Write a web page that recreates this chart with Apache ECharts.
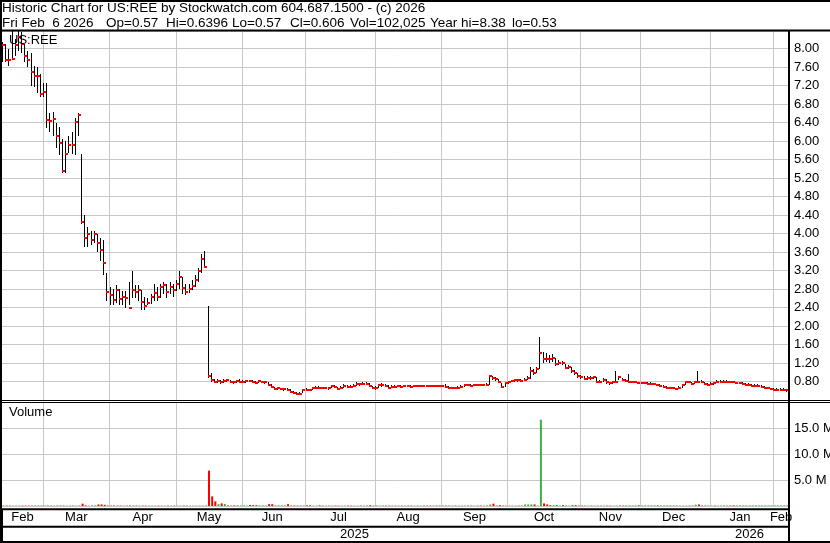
<!DOCTYPE html>
<html><head><meta charset="utf-8">
<script src="https://cdn.jsdelivr.net/npm/echarts@6/dist/echarts.min.js"></script>
<style>html,body{margin:0;padding:0;background:#fff;overflow:hidden}#c{width:846px;height:543px}</style>
</head><body><div id="c"></div>
<script>
// ---- calendar (US trading days) ----
const holidays = ['2025-02-17','2025-04-18','2025-05-26','2025-06-19','2025-07-04','2025-09-01','2025-11-27','2025-12-25','2026-01-01','2026-01-19'];
const firstDay = '2025-02-11', lastDay = '2026-02-06';
const monthNames = ['Jan','Feb','Mar','Apr','May','Jun','Jul','Aug','Sep','Oct','Nov','Dec'];

// ---- daily bars: high / low / close ----
const hi = [8.15,8.10,8.00,8.38,8.20,8.38,8.36,8.10,7.95,7.90,7.62,7.60,7.45,
7.25,7.25,6.60,6.62,6.40,6.30,6.05,6.00,6.10,6.20,6.50,6.60,
5.71,4.40,4.15,4.05,4.05,4.00,3.90,3.85,3.15,
2.85,2.80,2.88,2.80,2.75,2.75,2.95,3.20,2.88,2.88,2.78,2.62,2.60,2.70,2.90,2.85,2.90,2.95,2.90,2.95,2.90,3.00,3.20,3.05,2.90,2.90,3.00,3.10,3.25,3.55,3.62,
2.43,
0.99,0.85,0.86,0.84,0.85,0.86,0.84,0.82,0.83,0.86,0.83,0.83,0.84,0.83,0.82,0.83,0.82,0.81,0.78,0.74,0.69,0.68,0.67,0.66,0.66,0.63,0.60,0.58,0.57,0.64,0.66,0.64,0.68,0.70,0.70,0.69,0.69,0.68,0.73,0.72,0.69,0.71,0.74,0.72,0.72,0.74,0.79,0.77,0.78,0.78,0.76,0.70,0.70,0.75,0.76,0.74,0.72,0.72,0.72,0.73,0.72,0.73,0.72,0.72,0.73,0.72,0.73,0.72,0.72,0.73,0.73,0.73,0.73,0.73,0.75,0.70,0.69,0.69,0.70,0.72,0.75,0.74,0.74,0.75,0.74,0.75,0.75,0.76,
0.95,0.91,0.90,0.86,0.76,0.78,0.81,0.84,0.86,0.86,0.85,0.87,0.92,1.12,1.07,1.12,1.77,1.43,1.41,1.38,1.40,1.30,1.26,1.25,1.18,1.16,1.12,1.04,0.98,0.94,0.91,0.92,0.91,0.92,0.90,0.84,0.87,0.86,0.80,0.81,1.02,0.92,0.88,0.85,0.97,0.82,0.81,0.80,0.79,0.79,0.78,0.79,0.77,0.75,0.74,0.72,0.71,0.69,0.68,0.67,0.70,0.75,0.81,0.81,0.79,0.82,1.02,0.83,0.80,0.77,0.78,0.80,0.83,0.83,0.83,0.83,0.82,0.82,0.80,0.79,0.78,0.76,0.76,0.75,0.74,0.74,0.73,0.71,0.68,0.67,0.66,0.65,0.66,0.65,0.6396];
const lo = [7.72,7.70,7.62,7.75,7.85,7.95,7.90,7.70,7.60,7.20,7.16,7.03,6.95,
6.95,6.28,6.20,6.10,5.85,5.70,5.30,5.30,5.75,5.72,5.70,6.10,
4.20,3.70,3.70,3.75,3.80,3.60,3.40,3.10,2.55,
2.45,2.45,2.50,2.45,2.45,2.38,2.45,2.60,2.60,2.55,2.35,2.35,2.45,2.48,2.55,2.55,2.60,2.70,2.60,2.70,2.62,2.75,2.80,2.70,2.68,2.72,2.78,2.85,2.95,3.15,3.25,
0.88,
0.78,0.76,0.77,0.75,0.77,0.79,0.77,0.75,0.77,0.76,0.77,0.77,0.78,0.76,0.75,0.77,0.76,0.75,0.70,0.65,0.61,0.61,0.61,0.60,0.59,0.56,0.54,0.53,0.53,0.56,0.59,0.59,0.61,0.64,0.64,0.63,0.63,0.62,0.66,0.66,0.61,0.63,0.67,0.66,0.67,0.68,0.70,0.71,0.72,0.72,0.68,0.63,0.62,0.66,0.69,0.69,0.65,0.66,0.67,0.68,0.67,0.68,0.68,0.67,0.68,0.68,0.69,0.68,0.68,0.68,0.69,0.69,0.69,0.69,0.66,0.63,0.64,0.64,0.65,0.67,0.69,0.70,0.69,0.70,0.70,0.70,0.71,0.71,
0.73,0.84,0.82,0.76,0.66,0.69,0.75,0.78,0.80,0.80,0.79,0.81,0.84,0.86,0.95,0.98,1.07,1.20,1.22,1.21,1.22,1.14,1.16,1.15,1.06,1.07,0.99,0.94,0.88,0.86,0.83,0.84,0.84,0.85,0.77,0.77,0.80,0.75,0.73,0.75,0.76,0.83,0.81,0.79,0.76,0.77,0.76,0.75,0.74,0.74,0.73,0.73,0.72,0.70,0.68,0.67,0.65,0.64,0.63,0.61,0.63,0.66,0.73,0.76,0.73,0.75,0.76,0.77,0.73,0.71,0.72,0.73,0.76,0.78,0.78,0.78,0.78,0.77,0.75,0.74,0.72,0.71,0.71,0.69,0.69,0.69,0.67,0.65,0.63,0.62,0.60,0.60,0.60,0.60,0.57];
const cl = [8.08,7.75,7.75,7.78,8.08,8.25,8.09,7.84,7.75,7.49,7.41,7.41,7.02,
7.06,6.45,6.44,6.47,6.11,5.96,5.36,5.72,5.92,5.92,6.42,6.56,
4.26,3.91,4.00,3.87,3.98,3.80,3.65,3.37,2.74,
2.66,2.56,2.77,2.59,2.63,2.61,2.39,2.78,2.74,2.78,2.51,2.43,2.50,2.63,2.72,2.63,2.85,2.89,2.74,2.85,2.78,2.91,3.07,2.82,2.74,2.81,2.87,3.00,3.18,3.46,3.28,
0.92,
0.84,0.79,0.82,0.78,0.82,0.84,0.80,0.78,0.81,0.79,0.79,0.81,0.81,0.79,0.77,0.81,0.79,0.78,0.73,0.68,0.63,0.65,0.63,0.63,0.62,0.58,0.56,0.54,0.54,0.62,0.61,0.61,0.65,0.67,0.67,0.65,0.66,0.65,0.70,0.69,0.63,0.67,0.70,0.69,0.69,0.71,0.74,0.74,0.75,0.75,0.70,0.65,0.65,0.72,0.72,0.71,0.67,0.69,0.69,0.70,0.69,0.70,0.70,0.69,0.70,0.70,0.71,0.70,0.70,0.70,0.71,0.71,0.71,0.71,0.68,0.65,0.66,0.66,0.67,0.69,0.72,0.72,0.71,0.72,0.72,0.72,0.73,0.73,
0.92,0.87,0.85,0.79,0.69,0.76,0.78,0.81,0.84,0.83,0.82,0.84,0.87,1.02,0.98,1.07,1.41,1.28,1.28,1.28,1.30,1.18,1.21,1.20,1.09,1.12,1.02,0.98,0.91,0.89,0.86,0.87,0.87,0.89,0.79,0.80,0.84,0.78,0.76,0.78,0.80,0.89,0.84,0.82,0.79,0.79,0.78,0.77,0.76,0.76,0.75,0.75,0.74,0.72,0.70,0.69,0.67,0.66,0.65,0.63,0.66,0.72,0.78,0.78,0.75,0.79,0.79,0.79,0.75,0.73,0.75,0.76,0.79,0.80,0.80,0.80,0.80,0.79,0.77,0.76,0.74,0.73,0.73,0.71,0.71,0.71,0.69,0.67,0.65,0.64,0.62,0.62,0.62,0.62,0.606];
// ---- daily volume, millions of shares ----
const volM = [0.08,0.08,0.08,0.08,0.08,0.08,0.08,0.08,0.08,0.08,0.08,0.08,0.08,
0.08,0.08,0.08,0.08,0.08,0.08,0.08,0.08,0.08,0.08,0.08,0.10,
0.45,0.12,0.08,0.08,0.12,0.30,0.30,0.22,0.08,
0.08,0.10,0.10,0.08,0.08,0.08,0.10,0.10,0.08,0.08,0.08,0.08,0.08,0.08,0.08,0.08,0.08,0.08,0.08,0.08,0.08,0.08,0.08,0.08,0.08,0.08,0.08,0.08,0.08,0.08,0.08,
6.80,
1.85,0.90,0.35,0.50,0.40,0.15,0.08,0.12,0.12,0.08,0.08,0.08,0.20,0.15,0.15,0.12,0.08,0.08,0.35,0.35,0.08,0.12,0.08,0.08,0.35,0.08,0.08,0.08,0.08,0.08,0.12,0.12,0.08,0.08,0.12,0.08,0.08,0.08,0.08,0.08,0.08,0.08,0.08,0.08,0.08,0.08,0.08,0.08,0.08,0.08,0.15,0.08,0.08,0.08,0.08,0.08,0.08,0.08,0.08,0.08,0.08,0.08,0.08,0.08,0.08,0.08,0.08,0.08,0.08,0.08,0.08,0.08,0.08,0.08,0.08,0.08,0.08,0.08,0.08,0.08,0.08,0.08,0.08,0.08,0.08,0.08,0.08,0.08,
0.30,0.45,0.08,0.15,0.08,0.08,0.08,0.08,0.08,0.08,0.08,0.30,0.30,0.30,0.30,0.08,16.60,0.50,0.30,0.15,0.15,0.15,0.08,0.15,0.08,0.08,0.15,0.15,0.08,0.08,0.08,0.08,0.08,0.08,0.08,0.08,0.08,0.08,0.08,0.08,0.08,0.12,0.08,0.08,0.08,0.08,0.08,0.12,0.08,0.08,0.08,0.08,0.08,0.12,0.08,0.08,0.08,0.08,0.08,0.08,0.08,0.08,0.08,0.08,0.08,0.25,0.30,0.08,0.08,0.08,0.08,0.12,0.08,0.08,0.08,0.08,0.08,0.12,0.08,0.08,0.08,0.08,0.08,0.08,0.08,0.08,0.08,0.08,0.08,0.08,0.08,0.08,0.08,0.08,0.10];

// header texts
const headerLine1 = 'Historic Chart for US:REE by Stockwatch.com 604.687.1500 - (c) 2026';
const headerLine2 = ['Fri Feb  6 2026','Op=0.57','Hi=0.6396','Lo=0.57','Cl=0.606','Vol=102,025','Year hi=8.38','lo=0.53'];
const headerLine2X = [2,106,166,232,290,350,430,512];
const symbolLabel = 'US:REE';
const volumeLabel = 'Volume';

function tradingDays(a, b) {
  const out = [];
  const d = new Date(a + 'T00:00:00Z'), e = new Date(b + 'T00:00:00Z');
  while (d <= e) {
    const w = d.getUTCDay(), s = d.toISOString().slice(0, 10);
    if (w !== 0 && w !== 6 && holidays.indexOf(s) < 0) out.push(s);
    d.setUTCDate(d.getUTCDate() + 1);
  }
  return out;
}
const dates = tradingDays(firstDay, lastDay);
const ym = dates.map(s => s.slice(0, 7));
const monthStart = dates.map((s, i) => i > 0 && ym[i] !== ym[i - 1]);
function middles(keys) {
  const res = {}; let start = 0;
  for (let i = 1; i <= keys.length; i++) {
    if (i === keys.length || keys[i] !== keys[i - 1]) { res[start + Math.floor((i - 1 - start) / 2)] = true; start = i; }
  }
  return res;
}
const monthMid = middles(ym);
const years = dates.map(s => s.slice(0, 4));
const yearMid = middles(years);
const yearStart = dates.map((s, i) => i > 0 && years[i] !== years[i - 1]);

const FONT = '"Liberation Sans", Arial, sans-serif';
const GRID_C = '#c8c8c8';
const chart = echarts.init(document.getElementById('c'), null, {renderer: 'canvas'});

const ohlc = dates.map((d, i) => [i, hi[i], lo[i], cl[i]]);
const volData = volM.map((v, i) => ({value: v, itemStyle: {color: (i > 0 && cl[i] > cl[i - 1]) ? '#3cb043' : '#ff0000'}}));

const catAxisBase = {type: 'category', data: dates, boundaryGap: true, axisLine: {show: false}, axisTick: {show: false}};
const L = (x1, y1, x2, y2, w) => ({type: 'line', z: 100, silent: true, shape: {x1, y1, x2, y2}, style: {stroke: '#000', lineWidth: w}});
const T = (x, y, text, size) => ({type: 'text', z: 101, silent: true, x, y, style: {text, font: (size || 13) + 'px ' + FONT, fill: '#000', textVerticalAlign: 'top'}});

chart.setOption({
  animation: false,
  backgroundColor: '#fff',
  grid: [
    {left: 2, top: 31, width: 787, height: 369},
    {left: 2, top: 402, width: 787, height: 104},
    {left: 2, top: 509, width: 787, height: 33}
  ],
  xAxis: [
    Object.assign({}, catAxisBase, {gridIndex: 0, axisLabel: {show: false},
      splitLine: {show: true, interval: i => monthStart[i], lineStyle: {color: GRID_C, width: 1}}}),
    Object.assign({}, catAxisBase, {gridIndex: 1,
      axisLabel: {show: true, interval: i => !!monthMid[i], formatter: v => monthNames[+v.slice(5, 7) - 1], margin: 5, fontSize: 13, fontFamily: FONT, color: '#000'},
      splitLine: {show: true, interval: i => monthStart[i], lineStyle: {color: GRID_C, width: 1}}}),
    Object.assign({}, catAxisBase, {gridIndex: 2,
      axisLabel: {show: true, inside: true, interval: i => !!yearMid[i], formatter: v => v.slice(0, 4), margin: 1, fontSize: 13, fontFamily: FONT, color: '#000'},
      splitLine: {show: true, interval: i => yearStart[i], lineStyle: {color: '#000', width: 1}}})
  ],
  yAxis: [
    {gridIndex: 0, type: 'value', position: 'right', min: 0.4, max: 8.38, interval: 0.4,
      axisLine: {show: false}, axisTick: {show: false},
      axisLabel: {formatter: v => v.toFixed(2), showMinLabel: false, showMaxLabel: false, margin: 5, fontSize: 13, fontFamily: FONT, color: '#000'},
      splitLine: {show: true, lineStyle: {color: GRID_C, width: 1}}},
    {gridIndex: 1, type: 'value', position: 'right', min: 0, max: 20, interval: 5,
      axisLine: {show: false}, axisTick: {show: false},
      axisLabel: {formatter: v => v.toFixed(1) + ' M', showMinLabel: false, showMaxLabel: false, margin: 5, fontSize: 13, fontFamily: FONT, color: '#000'},
      splitLine: {show: true, lineStyle: {color: GRID_C, width: 1}}},
    {gridIndex: 2, type: 'value', show: false}
  ],
  series: [
    {type: 'custom', xAxisIndex: 0, yAxisIndex: 0, data: ohlc, encode: {x: 0, y: [1, 2, 3]}, silent: true,
      renderItem: (params, api) => {
        const i = api.value(0);
        const pH = api.coord([i, api.value(1)]);
        const pL = api.coord([i, api.value(2)]);
        const pC = api.coord([i, api.value(3)]);
        const px = Math.floor(pH[0]) - 1;
        const y1 = Math.round(pH[1]);
        const y2 = Math.max(Math.round(pL[1]), y1 + 1);
        return {type: 'group', children: [
          {type: 'line', shape: {x1: px + 0.5, y1: y1, x2: px + 0.5, y2: y2}, style: {stroke: '#000', lineWidth: 1}},
          {type: 'rect', shape: {x: px, y: Math.round(pC[1]) - 1, width: 3, height: 2}, style: {fill: '#ff0000'}}
        ]};
      }},
    {type: 'bar', xAxisIndex: 1, yAxisIndex: 1, data: volData, barWidth: 2, silent: true}
  ],
  graphic: [
    T(2, 1, headerLine1, 13.5),
    ...headerLine2.map((t, k) => T(headerLine2X[k], 16, t, 13.5)),
    T(9, 34, symbolLabel),
    T(9, 406, volumeLabel),
    L(0, 1, 846, 1, 2),
    L(0, 30.5, 846, 30.5, 2),
    L(1, 0, 1, 543, 2),
    L(789, 30, 789, 543, 2),
    L(0, 400.5, 846, 400.5, 1),
    L(0, 402.5, 846, 402.5, 1),
    L(0, 509.3, 789, 509.3, 2),
    L(0, 526.7, 789, 526.7, 2),
    L(0, 542, 846, 542, 2)
  ]
});
</script>
</body></html>
